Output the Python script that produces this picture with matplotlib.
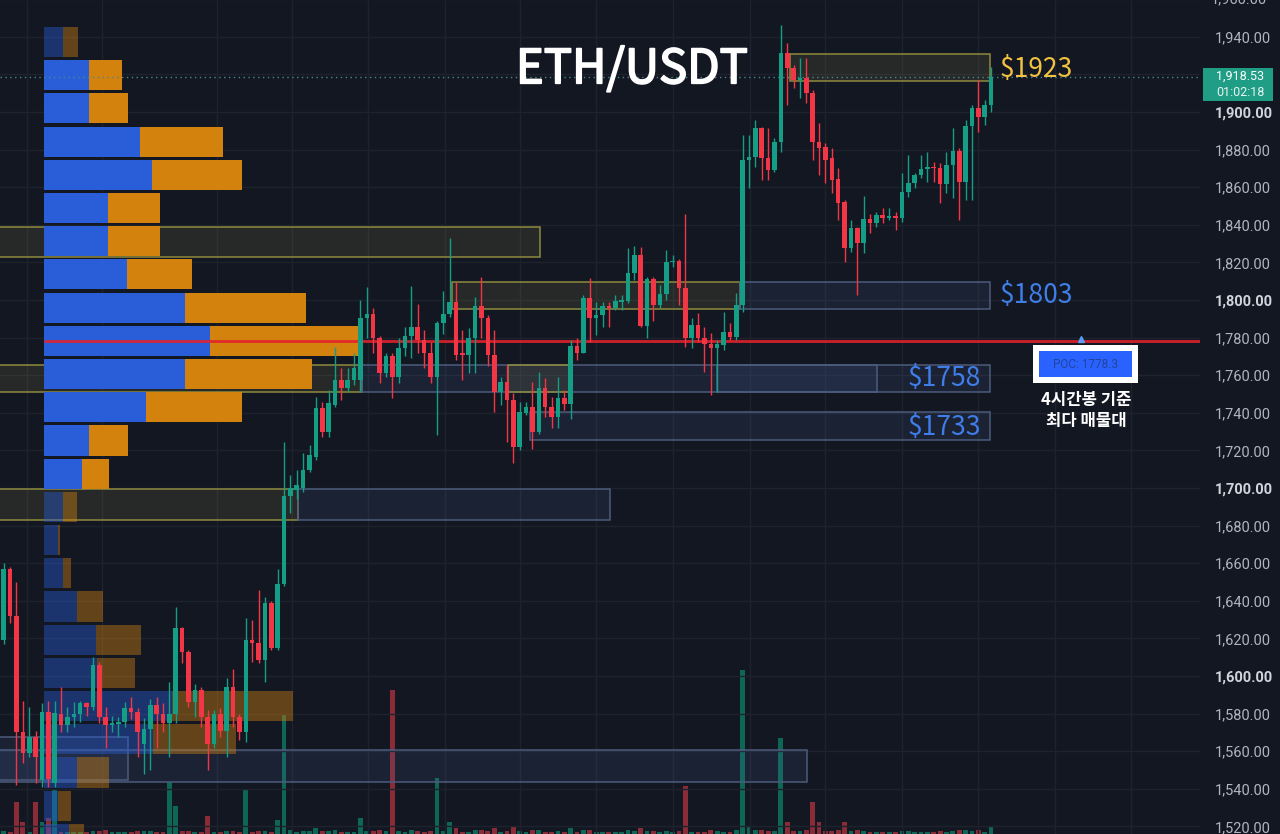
import matplotlib
matplotlib.use("Agg")
import matplotlib.pyplot as plt
import matplotlib.patheffects as pe
from matplotlib.patches import Rectangle
import numpy as np

plt.rcParams['font.family'] = ['Noto Sans CJK KR', 'DejaVu Sans']

# ETH/USDT, 4h candles, oldest -> newest
opens = [1626, 1619, 1657, 1632, 1570, 1559, 1567.5, 1544.6, 1581, 1543,
         1580, 1574, 1578, 1580, 1585.6, 1583.5, 1606, 1578, 1574, 1574.5,
         1575.5, 1583, 1581, 1564, 1572, 1584.5, 1580, 1575, 1580, 1625.5,
         1613, 1586, 1592.5, 1578, 1564, 1580, 1571, 1594, 1578, 1570,
         1619, 1617.5, 1608.5, 1639, 1615, 1649, 1696, 1699, 1700, 1709.6,
         1716.5, 1742.5, 1730, 1744, 1757.4, 1753, 1757.4, 1757.4, 1790.4, 1792.5,
         1780, 1761, 1770, 1759, 1774.5, 1781, 1785.6, 1778.7, 1772, 1759,
         1788, 1792.5, 1799, 1772, 1770.7, 1780, 1797, 1790.4, 1770.7, 1751,
         1756.4, 1746.8, 1722, 1740, 1743, 1730, 1753, 1743, 1738, 1748,
         1744.7, 1775.5, 1772, 1801, 1790.4, 1792, 1797, 1795.7, 1799, 1799.5,
         1814.4, 1824, 1786, 1811, 1797.3, 1803, 1820, 1820.7, 1806.4, 1779.8,
         1786.7, 1779.8, 1776.6, 1774.5, 1776, 1783, 1780.3, 1797.3, 1874.5, 1876,
         1891.5, 1875.5, 1869, 1884, 1931.4, 1923.4, 1917, 1918, 1910, 1884,
         1881.4, 1875.5, 1864.4, 1852, 1827.7, 1838.3, 1830.3, 1843, 1841, 1845.2,
         1843.6, 1844.7, 1843.6, 1857.5, 1862, 1866.5, 1869.7, 1870.8, 1870.2, 1861.7,
         1871.8, 1879.3, 1862.8, 1892.6, 1902, 1897.4, 1903.7]
highs = [1630, 1660, 1658, 1650, 1587, 1583.5, 1571, 1585.6, 1587, 1587,
         1594, 1583.5, 1586, 1587, 1586, 1610, 1607.5, 1583.5, 1579, 1578,
         1586, 1589, 1583, 1577.6, 1588, 1589, 1585.6, 1597, 1637, 1626,
         1614, 1596, 1594, 1582, 1582, 1583, 1599, 1604, 1580, 1631,
         1630, 1646, 1642, 1640, 1657, 1724.5, 1707, 1709.6, 1718.6, 1723,
         1748.4, 1745.7, 1752, 1775, 1764, 1764, 1772, 1800, 1807, 1796,
         1781, 1772, 1772, 1780, 1785.6, 1807.4, 1798, 1784, 1777.7, 1789,
         1805, 1833, 1809.6, 1784, 1785, 1801.6, 1812, 1792, 1784, 1759,
         1765.4, 1750.5, 1745.7, 1745.7, 1756.4, 1761.7, 1758.5, 1748.4, 1759, 1752,
         1778.7, 1780, 1802.7, 1811.7, 1799, 1799, 1799, 1802.7, 1802.7, 1827.7,
         1829, 1828, 1812, 1812, 1808, 1826.6, 1824, 1822, 1846, 1790.4,
         1793, 1785.6, 1782.4, 1778.7, 1793.6, 1787.8, 1804, 1887.8, 1887.8, 1895.8,
         1892, 1891.5, 1886, 1946.3, 1936.7, 1925, 1928.7, 1928.7, 1911.7, 1894,
         1883.5, 1881, 1870, 1853, 1842.6, 1838.8, 1855.3, 1846, 1846.8, 1849,
         1849, 1846.8, 1867.5, 1877, 1867.5, 1877, 1878.7, 1873.4, 1872.9, 1878.7,
         1891.5, 1880.8, 1895.8, 1903.7, 1917, 1906.4, 1924]
lows = [1616, 1617, 1628, 1542, 1554, 1557, 1543, 1541, 1541, 1541,
        1570, 1570, 1573, 1575.5, 1579, 1582, 1575, 1562, 1570, 1567.5,
        1573, 1577, 1557, 1548, 1550, 1562, 1570, 1557, 1575, 1607,
        1583.5, 1578, 1573, 1550, 1562, 1567.5, 1557, 1573, 1566, 1565,
        1607.5, 1607, 1597, 1614, 1614, 1648, 1687, 1694, 1698, 1708.5,
        1715, 1727, 1727, 1743, 1747, 1751, 1755, 1751, 1780, 1772,
        1756, 1759, 1748, 1756, 1770, 1769, 1772, 1764, 1756, 1728,
        1782, 1791, 1768, 1757.4, 1761, 1761, 1780, 1765, 1740.4, 1744,
        1724.5, 1713.3, 1720, 1739, 1721, 1729, 1738, 1732, 1732, 1741.5,
        1737, 1768, 1772, 1777.7, 1781.4, 1785.6, 1785.6, 1794.7, 1794.7, 1798.4,
        1810.6, 1785.6, 1780, 1789, 1796, 1800, 1817.5, 1797.3, 1775, 1774.5,
        1777.7, 1761.7, 1749.5, 1751, 1773.4, 1778.7, 1778.7, 1793.6, 1859.6, 1870.8,
        1863.8, 1863.8, 1868, 1878.7, 1903.7, 1912.8, 1907.5, 1904.8, 1874.5, 1866.5,
        1862, 1857, 1842.6, 1820.2, 1825.5, 1802.7, 1825, 1835.6, 1838.8, 1841,
        1842.6, 1837, 1841.5, 1854.8, 1859.6, 1865, 1862.8, 1862.8, 1851.6, 1857,
        1854.3, 1842.6, 1853, 1853, 1889.4, 1893, 1900]
closes = [1619, 1657, 1632, 1570, 1559, 1567.5, 1557, 1581, 1545, 1580.3,
          1574, 1578, 1580, 1585.6, 1583.5, 1606, 1578, 1574, 1575, 1575.5,
          1583, 1581, 1570, 1572, 1584.5, 1580, 1575, 1580, 1625.5, 1613,
          1586, 1592.5, 1578, 1564, 1580, 1571, 1594, 1578, 1570, 1619,
          1617.5, 1608.5, 1639, 1615, 1649, 1696, 1700, 1701.5, 1709.6, 1717.5,
          1742.5, 1730, 1745, 1757.4, 1753, 1757.4, 1764, 1790.4, 1792.5, 1780,
          1761, 1770, 1759, 1774.5, 1781, 1785.6, 1778.7, 1772, 1759, 1788,
          1792.5, 1799, 1770.7, 1770.7, 1780, 1797, 1790.4, 1770.7, 1751, 1756.4,
          1746.8, 1721.8, 1740.4, 1743, 1730, 1753, 1743, 1738, 1748, 1744.7,
          1775.5, 1772, 1801, 1790.4, 1792, 1797, 1795.7, 1799.5, 1800, 1814.4,
          1824, 1786, 1811, 1797.3, 1803, 1820, 1821, 1806.4, 1779.8, 1786.7,
          1779.8, 1776.6, 1774.5, 1776.6, 1783, 1780.3, 1797.3, 1874.5, 1876, 1891.5,
          1875.5, 1869, 1884, 1931.4, 1923.4, 1917, 1918, 1910, 1884, 1881,
          1874.5, 1863.8, 1851.6, 1827.7, 1838.3, 1830.3, 1843, 1841, 1845.2, 1843.6,
          1844.7, 1843.6, 1857.5, 1862, 1866.5, 1869.7, 1870.8, 1870.2, 1861.7, 1871.8,
          1879.3, 1862.8, 1892.6, 1902, 1897.4, 1903.7, 1918.53]
# volume, thousand ETH
volumes = [0.4, 0.8, 0.4, 8, 3, 0.4, 8, 3, 4, 11,
           0.4, 0.4, 0.4, 0.4, 0.4, 0.8, 0.8, 1, 0.4, 0.4,
           0.4, 0.4, 0.8, 0.8, 0.8, 0.4, 0.4, 13, 7, 0.8,
           0.8, 0.4, 0.4, 4.5, 0.4, 0.4, 0.8, 0.8, 0.4, 11,
           0.4, 0.8, 0.8, 0.4, 3.5, 30, 1, 0.4, 0.8, 0.8,
           1.5, 0.8, 0.8, 1, 0.4, 0.4, 0.4, 4, 0.8, 0.8,
           1, 0.8, 36, 0.8, 0.4, 1, 0.8, 0.4, 0.8, 14,
           0.8, 3, 1.5, 0.4, 0.4, 1, 1, 0.8, 1.5, 0.4,
           0.8, 2, 0.8, 0.4, 1, 1, 0.4, 0.4, 0.8, 0.4,
           1.5, 0.4, 1, 1, 0.4, 0.4, 0.4, 0.4, 0.4, 1,
           0.8, 1.5, 0.8, 0.8, 0.4, 0.8, 0.4, 0.8, 12, 0.4,
           0.4, 0.4, 1, 0.8, 0.4, 0.4, 1, 41, 2, 1,
           1, 0.8, 0.8, 24, 3, 0.8, 0.8, 1, 8, 3,
           0.8, 0.8, 1, 3, 0.8, 1, 0.8, 0.4, 0.4, 0.4,
           0.4, 0.4, 0.8, 0.8, 0.4, 0.4, 0.4, 0.4, 0.8, 0.4,
           0.8, 1, 1, 0.8, 1, 0.4, 2]

current_price = 1918.53
price_timer = '01:02:18'

# volume profile (visible range): level, buy vol, sell vol
vp_levels = [1937.24, 1919.58, 1901.92, 1884.26, 1866.6, 1848.94, 1831.28, 1813.62,
             1795.96, 1778.3, 1760.64, 1742.98, 1725.32, 1707.66, 1690.0, 1672.34,
             1654.68, 1637.02, 1619.36, 1601.7, 1584.04, 1566.38, 1548.72, 1531.06,
             1513.4]
vp_up = [19, 45, 45, 96, 108, 64, 64, 83, 141, 166, 141, 102, 45, 38, 19, 14,
         19, 33, 52, 53, 128, 109, 33, 14, 25]
vp_down = [15, 33, 39, 83, 90, 52, 52, 65, 121, 150, 127, 96, 39, 27, 14, 2,
           8, 26, 45, 38, 121, 83, 32, 13, 15]
poc = 1778.3

# supply / demand zones: start bar, end bar, low, high, kind
zones = [
    (-5, 85.2, 1822.9, 1838.8, 'supply'),
    (71.4, 116.6, 1795.2, 1809.6, 'supply'),
    (116.6, 155.8, 1795.2, 1809.6, 'demand'),
    (124.4, 155.8, 1916.5, 1930.9, 'supply'),
    (-5, 57.2, 1751.0, 1765.4, 'supply'),
    (57.2, 138.1, 1751.0, 1765.4, 'demand'),
    (80.2, 89.9, 1751.0, 1765.4, 'supply'),
    (113.0, 155.8, 1751.0, 1765.4, 'demand'),
    (83.6, 155.8, 1725.5, 1740.4, 'demand'),
    (-5, 47.2, 1683.0, 1699.5, 'supply'),
    (47.2, 96.2, 1683.0, 1699.5, 'demand'),
    (-5, 127.1, 1543.6, 1560.6, 'demand'),
    (-5, 20.5, 1544.7, 1567.6, 'demand'),
]

BG = '#131722'
GRID = '#1e222d'
UP = '#159e86'
DOWN = '#f23645'

W, H = 1280, 834
fig = plt.figure(figsize=(W / 100, H / 100), dpi=100)
fig.patch.set_facecolor(BG)

rect = [0, 0, 1200 / W, 1]
ax_vol = fig.add_axes(rect)
ax = fig.add_axes(rect)
ax.patch.set_visible(False)

n = len(opens)
idx = np.arange(n)
o = np.array(opens)
h = np.array(highs)
l = np.array(lows)
c = np.array(closes)
up = c >= o

x_left, x_right = 0.41, 188.8
y_low, y_high = 1516.0, 1959.6

# volume
ax_vol.set_facecolor(BG)
ax_vol.bar(idx, volumes, width=0.75, color=np.where(up, '#0e6657', '#8a2c37'), zorder=1)
ax_vol.set_xlim(x_left, x_right)
ax_vol.set_ylim(0, 208.5)
ax_vol.axis('off')

# grid
yticks = np.arange(1520, 1961, 20)
ax.set_yticks(yticks)
for t in yticks:
    ax.axhline(t, color=GRID, lw=1, zorder=0)
for gx in [4.6, 16.4, 34.5, 46.2, 58.2, 70.2, 82.1, 94, 106.1, 118.1, 130, 142, 154, 166, 178]:
    ax.axvline(gx, color=GRID, lw=1, zorder=0)

# zones
for x0, x1, lo, hi, kind in zones:
    if kind == 'supply':
        fc, ec = (0.55, 0.55, 0.3, 0.16), '#8e8a3e'
    else:
        fc, ec = (0.3, 0.42, 0.65, 0.14), '#4c5c7c'
    ax.add_patch(Rectangle((x0, lo), x1 - x0, hi - lo, facecolor=fc, edgecolor=ec,
                           lw=1.1, zorder=1))

# volume profile
px = 6.37  # pixels per bar
vp_x0 = 7.32
vp_up_w = np.array(vp_up) / px
vp_dn_w = np.array(vp_down) / px
va = [1 <= k <= 13 for k in range(len(vp_levels))]
for k, lev in enumerate(vp_levels):
    a = 1.0 if va[k] else 0.42
    ax.barh(lev, vp_up_w[k], left=vp_x0, height=16, color='#2a5dd8', alpha=a, zorder=2)
    ax.barh(lev, vp_dn_w[k], left=vp_x0 + vp_up_w[k], height=16, color='#d4820e',
            alpha=a, zorder=2)

# POC line
ax.hlines(poc, vp_x0, x_right, color='#e3222d', lw=2, alpha=0.9, zorder=2.5)
ax.plot([170.1], [poc + 1.2], marker='^', ms=4, color='#5b9cf5', zorder=6, clip_on=False)

# last price line
ax.axhline(current_price, color='#4c8790', lw=1, ls=(0, (1, 2.5)), zorder=2.6)

# candles
colors = np.where(up, UP, DOWN)
ax.vlines(idx, l, h, colors=colors, lw=1, zorder=3)
body_lo = np.minimum(o, c)
body_h = np.maximum(np.abs(c - o), 0.6)
ax.bar(idx, body_h, bottom=body_lo, width=0.72, color=colors, zorder=4)

ax.set_xlim(x_left, x_right)
ax.set_ylim(y_low, y_high)
for s in ax.spines.values():
    s.set_visible(False)
ax.tick_params(axis='x', bottom=False, labelbottom=False)
ax.yaxis.tick_right()
# 1,920 sits under the last-price badge
ax.set_yticklabels(['' if t == 1920 else f'{t:,.2f}' for t in yticks])
ax.tick_params(axis='y', length=0, pad=11, labelsize=10.5, labelcolor='#b2b5be',
               labelfontfamily='Roboto')
for lbl, t in zip(ax.get_yticklabels(), yticks):
    if t % 100 == 0:
        lbl.set_fontweight('bold')
        lbl.set_color('#d1d4dc')
# top label, half cut by the edge
ax.text(1 + 11 / 1200, 1960, '1,960.00', transform=ax.get_yaxis_transform(),
        color='#b2b5be', fontsize=10.5, family='Roboto', ha='left', va='center',
        clip_on=False)


def fx(x):
    return x / W


def fy(y):
    return 1 - y / H


# title
fig.text(fx(632), fy(70), 'ETH/USDT', color='white', fontsize=34,
         ha='center', va='center',
         path_effects=[pe.withStroke(linewidth=1.3, foreground='white')])

# level labels
fig.text(fx(1000), fy(69), '$1923', color='#f2c340', fontsize=19, ha='left', va='center')
fig.text(fx(1000), fy(295), '$1803', color='#3f7ee8', fontsize=19, ha='left', va='center')
fig.text(fx(908), fy(378), '$1758', color='#3f7ee8', fontsize=19, ha='left', va='center')
fig.text(fx(908), fy(428), '$1733', color='#3f7ee8', fontsize=19, ha='left', va='center')

# POC badge
fig.add_artist(Rectangle((fx(1033), fy(383)), 105 / W, 38 / H, transform=fig.transFigure,
                         facecolor='white', edgecolor='none'))
fig.add_artist(Rectangle((fx(1039), fy(377)), 93 / W, 26 / H, transform=fig.transFigure,
                         facecolor='#2962ff', edgecolor='none'))
fig.text(fx(1085.5), fy(365), f'POC: {poc}', color='#22449e', fontsize=8.5,
         ha='center', va='center', family='Roboto')
fig.text(fx(1086), fy(400), '4시간봉 기준', color='white', fontsize=12, fontweight='bold',
         ha='center', va='center')
fig.text(fx(1086), fy(421), '최다 매물대', color='white', fontsize=12, fontweight='bold',
         ha='center', va='center')

# current price badge
fig.add_artist(Rectangle((fx(1203), fy(101)), 70 / W, 33 / H, transform=fig.transFigure,
                         facecolor='#1f9e85', edgecolor='none'))
fig.text(fx(1240), fy(76.5), f'{current_price:,.2f}', color='white', fontsize=9,
         ha='center', va='center', family='Roboto')
fig.text(fx(1240), fy(92.5), price_timer, color='#e6f5f1', fontsize=9,
         ha='center', va='center', family='Roboto')

fig.savefig('out.png', dpi=100, facecolor=BG)
